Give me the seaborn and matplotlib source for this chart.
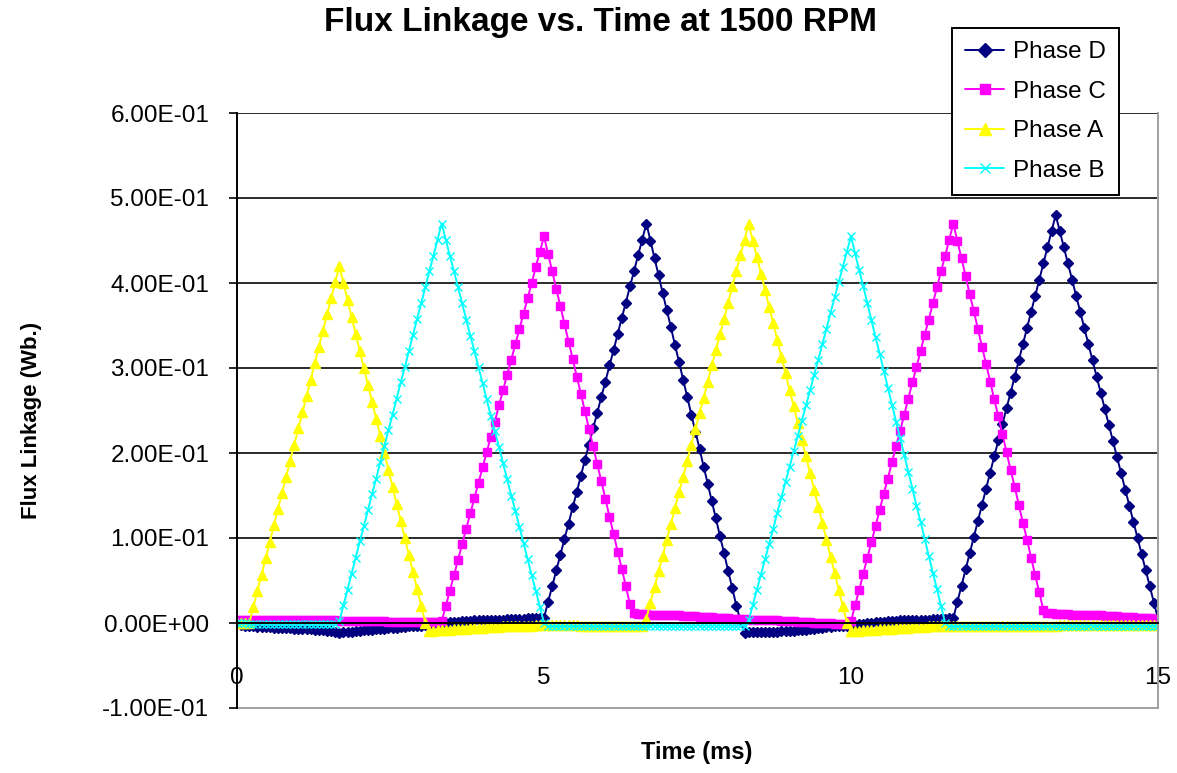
import numpy as np
import pandas as pd
import seaborn as sns
import matplotlib
matplotlib.use("Agg")
import matplotlib.pyplot as plt
from matplotlib.ticker import FuncFormatter

# sample spacing of the simulation (ms)
STEP_MS = 1 / 15

# flux linkage, in mWb, one value per sample
phase_d = [
    0, -2, -3, -4, -4, -5, -5, -5, -5, -6, -6, -6, -6, -6, -7, -7, -7, -7, -7, -8, -8, -8, -9, -9, -10, -12,
    -11, -10, -10, -9, -9, -8, -8, -8, -7, -7, -7, -6, -6, -6, -5, -5, -4, -4, -3, -3, -2, -2, -1, -1,
    0, 0, 1, 1, 1, 2, 2, 2, 3, 3, 3, 3, 4, 4, 4, 4, 5, 5, 5, 5, 5, 6, 6, 6, 6,
    6, 25, 43, 62, 80, 99, 117, 136, 154, 173, 192, 210, 229, 247, 266, 284, 303, 321, 340, 359, 377, 396, 414, 433, 451, 470,
    450, 429, 409, 388, 368, 348, 327, 307, 286, 266, 245, 225, 205, 184, 164, 143, 123, 102, 82, 61, 41, 20, 3, -12, -11,
    -11, -11, -10, -10, -10, -10, -10, -9, -9, -9, -9, -8, -8, -8, -7, -7, -6, -6, -5, -5, -4, -4, -3, -3, -2,
    -2, -1, -1, 0, 0, 1, 1, 1, 2, 2, 2, 3, 3, 3, 3, 4, 4, 4, 4, 5, 5, 5, 5, 6,
    6, 25, 44, 63, 82, 101, 120, 139, 158, 177, 196, 215, 234, 253, 271, 290, 309, 328, 347, 366, 385, 404, 423, 442, 461, 480,
    461, 442, 423, 404, 385, 366, 347, 328, 309, 290, 271, 252, 233, 214, 195, 176, 157, 138, 119, 100, 81, 62, 43, 24, 5,
]
phase_c = [
    4, 4, 4, 4, 4, 4, 4, 4, 4, 4, 4, 4, 3, 3, 3, 3, 3, 3, 3, 3, 3, 3, 3, 3, 3,
    2, 2, 2, 2, 2, 2, 2, 2, 2, 2, 2, 2, 1, 1, 1, 1, 1, 1, 1, 1, 1, 1, 1, 1, 1,
    2, 20, 38, 56, 74, 93, 111, 129, 147, 165, 183, 201, 219, 237, 256, 274, 292, 310, 328, 346, 364, 382, 400, 419, 437, 455,
    434, 414, 393, 373, 352, 331, 311, 290, 270, 249, 228, 208, 187, 167, 146, 125, 105, 84, 64, 43, 22, 12,
    11, 11, 11, 10, 10, 10, 10, 9, 9, 9, 9, 8, 8, 8, 8, 7, 7, 7, 7, 6, 6, 6, 6, 5, 5, 5,
    5, 4, 4, 4, 4, 3, 3, 3, 3, 2, 2, 2, 2, 1, 1, 1, 1, 0, 0, 0, 0, 0, -1, -1, -1, -1,
    2, 21, 39, 58, 77, 95, 114, 133, 152, 170, 189, 208, 226, 245, 264, 283, 301, 320, 339, 357, 376, 395, 414, 432, 451, 470,
    449, 429, 408, 387, 367, 346, 325, 305, 284, 263, 243, 222, 201, 180, 160, 139, 118, 98, 77, 56, 36, 15,
    12, 12, 11, 11, 11, 11, 10, 10, 10, 10, 9, 9, 9, 9, 8, 8, 8, 8, 7, 7, 7, 7, 6, 6, 6, 6, 5, 5,
]
phase_a = [
    0, 0, 0,
    0, 19, 38, 57, 76, 95, 115, 134, 153, 172, 191, 210, 229, 248, 267, 286, 306, 325, 344, 363, 382, 401, 420,
    400, 380, 360, 340, 320, 300, 280, 260, 240, 220, 200, 180, 160, 140, 120, 100, 80, 60, 40, 20, 0,
    -9, -9, -8, -8, -8, -8, -7, -7, -7, -7, -6, -6, -6, -6, -5, -5, -5, -5, -4, -4, -4, -4, -3, -3, -3, -3, -2, -2, -2,
    -2, -2, -2, -2, -2, -2, -2, -2, -3, -3, -3, -3, -3, -3, -3, -3, -3, -3, -3, -3, -3, -3, -3, -3,
    5, 24, 42, 61, 79, 98, 117, 135, 154, 172, 191, 210, 228, 247, 265, 284, 303, 321, 340, 358, 377, 396, 414, 433, 451, 470,
    450, 431, 411, 392, 372, 353, 333, 313, 294, 274, 255, 235, 215, 196, 176, 157, 137, 118, 98, 78, 59, 39, 20, 0,
    -9, -9, -9, -8, -8, -8, -8, -7, -7, -7, -7, -6, -6, -6, -6, -5, -5, -5, -5, -4, -4, -4, -4, -3, -3,
    -3, -3, -3, -3, -3, -3, -3, -3, -3, -3, -3, -3, -3, -3, -3, -3, -3, -3, -3, -3, -3, -3, -3, -3, -3, -3,
    -2, -2, -2, -2, -2, -2, -2, -2, -2, -2, -2, -2, -2, -2, -2, -2, -2, -2, -2, -2, -2, -2, -2, -2, -2,
]
phase_b = [
    0, 0, 0, -1, -1, -1, -1, -1, -1, -1, -1, -1, -1, -1, -1, -1, -1, -1, -1, -1, -1, -1, -1, -1, -1,
    2, 21, 39, 58, 77, 96, 114, 133, 152, 170, 189, 208, 227, 245, 264, 283, 301, 320, 339, 358, 376, 395, 414, 432, 451, 470,
    451, 432, 414, 395, 376, 357, 338, 320, 301, 282, 263, 244, 226, 207, 188, 169, 150, 132, 113, 94, 75, 56, 38, 19, 0,
    -4, -4, -4, -4, -4, -4, -4, -4, -4, -4, -4, -4, -4, -4, -4, -4, -4, -4, -4, -4, -4, -4, -4, -4, -4,
    -3, -3, -3, -3, -3, -3, -3, -3, -3, -3, -3, -3, -3, -3, -3, -3, -3, -3, -3, -3, -3, -3, -3, -3,
    3, 21, 39, 57, 75, 93, 111, 130, 148, 166, 184, 202, 220, 238, 256, 274, 292, 310, 328, 346, 365, 383, 401, 419, 437, 455,
    435, 415, 396, 376, 356, 336, 317, 297, 277, 257, 237, 218, 198, 178, 158, 138, 119, 99, 79, 59, 40, 20, 0,
    -4, -4, -4, -4, -4, -4, -4, -4, -4, -4, -4, -4, -4, -4, -4, -4, -4, -4, -4, -4, -4, -4, -4, -4, -4, -4,
    -3, -3, -3, -3, -3, -3, -3, -3, -3, -3, -3, -3, -3, -3, -3, -3, -3, -3, -3, -3, -3, -3, -3, -3, -3, -3,
]

series_names = ["Phase D", "Phase C", "Phase A", "Phase B"]
series_values = [phase_d, phase_c, phase_a, phase_b]
series_colors = ["#000080", "#FF00FF", "#FFFF00", "#00FFFF"]
series_markers = ["D", "s", "^", "x"]
marker_sizes = [5.5, 6, 7, 5.5]

y_ticks = [-0.1, 0.0, 0.1, 0.2, 0.3, 0.4, 0.5, 0.6]
x_ticks = [0, 5, 10, 15]

sns.set_style("white")
plt.rcParams["font.family"] = ["Liberation Sans", "DejaVu Sans"]
plt.rcParams["text.color"] = "black"
plt.rcParams["axes.labelcolor"] = "black"

W, H = 1177, 773
fig = plt.figure(figsize=(W / 100, H / 100), dpi=100)
ax = fig.add_axes([237 / W, 1 - 708 / H, (1158 - 237) / W, (708 - 113) / H])

for name, vals, col, mk, ms in zip(series_names, series_values, series_colors,
                                   series_markers, marker_sizes):
    df = pd.DataFrame({"time": np.arange(len(vals)) * STEP_MS,
                       "flux": np.array(vals) / 1000.0})
    sns.lineplot(data=df, x="time", y="flux", ax=ax, color=col, label=name,
                 marker=mk, markersize=ms, markeredgecolor=col,
                 markeredgewidth=1.0, linewidth=1.4, estimator=None,
                 sort=False, legend=False)

ax.set_xlim(0, 15)
ax.set_ylim(-0.1, 0.6)

# horizontal gridlines
for yv in y_ticks[1:]:
    ax.axhline(yv, color="#2b2b2b", linewidth=1.4, zorder=0)

ax.set_yticks(y_ticks)
ax.yaxis.set_major_formatter(FuncFormatter(lambda v, p: f"{v:.2E}"))
ax.set_xticks(x_ticks)
ax.set_xticklabels([str(v) for v in x_ticks])

# x axis crosses at y = 0
ax.spines["bottom"].set_position(("data", 0))
ax.spines["bottom"].set_color("black")
ax.spines["bottom"].set_linewidth(1.4)
ax.spines["left"].set_color("black")
ax.spines["left"].set_linewidth(1.4)
ax.spines["top"].set_visible(False)
ax.spines["right"].set_color("#a0a0a0")
ax.spines["right"].set_linewidth(1.4)
ax.axhline(-0.1, color="#a0a0a0", linewidth=1.4, zorder=0, clip_on=False)

ax.tick_params(axis="y", direction="out", length=6, width=1.2, pad=14,
               labelsize=17.5, left=True, colors="black")
ax.tick_params(axis="x", direction="out", length=5, width=1.2, pad=27,
               labelsize=17.5, bottom=True, colors="black")

ax.set_xlabel("")
ax.set_ylabel("")
fig.text(697 / W, 1 - 752 / H, "Time (ms)", ha="center", va="center",
         fontsize=17, fontweight="bold")
fig.text(32 / W, 1 - 420 / H, "Flux Linkage (Wb.)", ha="center", va="center",
         rotation=90, fontsize=16, fontweight="bold")
fig.text(600 / W, 1 - 22 / H, "Flux Linkage vs. Time at 1500 RPM",
         ha="center", va="center", fontsize=24, fontweight="bold")

handles, labels = ax.get_legend_handles_labels()
leg = fig.legend(handles, labels, loc="upper left",
                 bbox_to_anchor=(952 / W, 1 - 28 / H), fontsize=17.5,
                 frameon=True, fancybox=False, framealpha=1,
                 edgecolor="black", borderpad=0.55, labelspacing=0.72,
                 handlelength=1.6, handletextpad=0.35, borderaxespad=0,
                 markerscale=1.3)
leg.get_frame().set_linewidth(1.4)

fig.savefig("out.png", dpi=100)
